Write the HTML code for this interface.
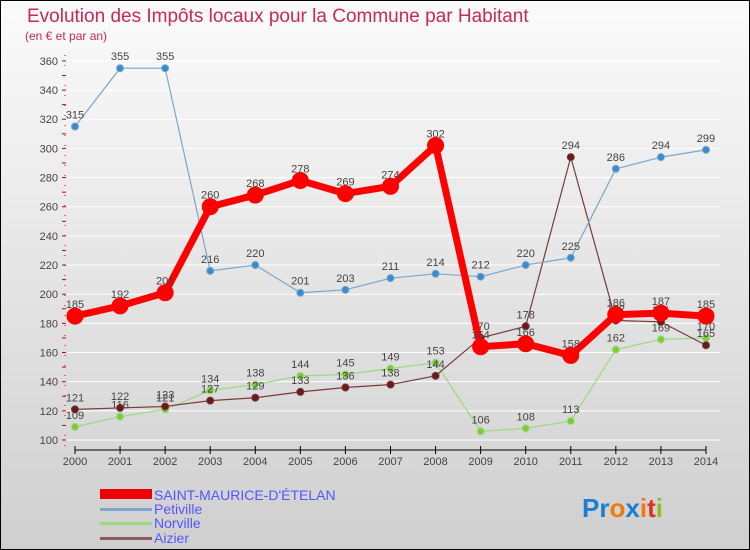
<!DOCTYPE html>
<html><head><meta charset="utf-8"><style>
body{margin:0;width:750px;height:550px;overflow:hidden;font-family:"Liberation Sans",sans-serif}
svg{display:block}
</style></head><body>
<svg width="750" height="550" xmlns="http://www.w3.org/2000/svg">
<defs><linearGradient id="bg" x1="0" y1="0" x2="0" y2="1"><stop offset="0" stop-color="#fbfbfb"/><stop offset="1" stop-color="#cfcfcf"/></linearGradient></defs>
<rect x="0.5" y="0.5" width="749" height="549" fill="url(#bg)" stroke="#000"/>
<text x="27" y="22" font-size="19" fill="#c8285a">Evolution des Impôts locaux pour la Commune par Habitant</text>
<text x="25" y="40" font-size="12" fill="#c8285a">(en € et par an)</text>
<g id="grid"></g><g id="axes"></g><g id="series"></g>
<g>
<rect x="100" y="489" width="52" height="10" fill="#e00"/>
<text x="154" y="500" font-size="14" fill="#55f">SAINT-MAURICE-D'ÉTELAN</text>
<rect x="100" y="508" width="52" height="3" fill="#7ba7c8"/>
<text x="154" y="514" font-size="14" fill="#55f">Petiville</text>
<rect x="100" y="522" width="52" height="3" fill="#9dd97c"/>
<text x="154" y="528" font-size="14" fill="#55f">Norville</text>
<rect x="100" y="537" width="52" height="3" fill="#8b5a5a"/>
<text x="154" y="543" font-size="14" fill="#55f">Aizier</text>
</g>
<g font-size="26" font-weight="bold">
<text x="582" y="517"><tspan fill="#1a7fd0">Pr</tspan><tspan fill="#f07a10">o</tspan><tspan fill="#1a7fd0">x</tspan><tspan fill="#f07a10">i</tspan><tspan fill="#e03020">t</tspan><tspan fill="#8ac020">i</tspan></text>
</g>
</svg>
<script>
const years=[2000,2001,2002,2003,2004,2005,2006,2007,2008,2009,2010,2011,2012,2013,2014];
const yTicks=[100,120,140,160,180,200,220,240,260,280,300,320,340,360];
const saintMaurice=[185,192,201,260,268,278,269,274,302,164,166,158,186,187,185];
const petiville=[315,355,355,216,220,201,203,211,214,212,220,225,286,294,299];
const norville=[109,116,121,134,138,144,145,149,153,106,108,113,162,169,170];
const aizier=[121,122,123,127,129,133,136,138,144,170,178,294,182,181,165];
const NS="http://www.w3.org/2000/svg";
const X=i=>75+i*45.07, Y=v=>440-(v-100)*1.458;
function mk(t,a,p){const e=document.createElementNS(NS,t);for(const k in a)e.setAttribute(k,a[k]);p.appendChild(e);return e;}
const grid=document.getElementById('grid'),axes=document.getElementById('axes'),ser=document.getElementById('series');
yTicks.forEach(v=>{
 const l=mk('line',{x1:65,x2:720,y1:Y(v),y2:Y(v),stroke:'#fff','stroke-width':1},grid);
 
 
 const t=mk('text',{x:58,y:Y(v)+4,'font-size':11,fill:'#444','text-anchor':'end'},axes);
 t.textContent=v;
 
 
});
for(let v=100;v<=360;v+=10){const m=mk('line',{x1:62,x2:66,y1:Y(v),y2:Y(v),stroke:'#c00'},axes);}
const ya=mk('line',{x1:65,x2:65,y1:55,y2:450,stroke:'#c00','stroke-width':1,'stroke-dasharray':'1 9'},axes);
const xa=mk('line',{x1:75,x2:706,y1:450,y2:450,stroke:'#000'},axes);


years.forEach((y,i)=>{
 mk('line',{x1:X(i),x2:X(i),y1:446,y2:454,stroke:'#000'},axes);
 const t=mk('text',{x:X(i),y:465,'font-size':11,fill:'#444','text-anchor':'middle'},axes);
 t.textContent=y;
 
 
});
function draw(name,data,color,dot,w,r){
 const g=mk('g',{},ser);
 
 
 mk('polyline',{points:data.map((v,i)=>X(i)+','+Y(v)).join(' '),fill:'none',stroke:color,'stroke-width':w,'stroke-linejoin':'round'},g);
 data.forEach((v,i)=>{
  const c=mk('circle',{cx:X(i),cy:Y(v),r:r,fill:dot,stroke:color,'stroke-width':1},g);
  
  
  const t=mk('text',{x:X(i),y:Y(v)-8,'font-size':11,fill:'#444','text-anchor':'middle'},g);
  t.textContent=v;
 });
}
draw('norville',norville,'#9dd97c','#7acc3c',1.2,3.5);
draw('aizier',aizier,'#7a3a3a','#6a1a1a',1.2,3.5);
draw('petiville',petiville,'#7ba7c8','#3a8ad0',1.2,3.5);
draw('saint-maurice',saintMaurice,'#f00','#f00',7,8);
</script>
</body></html>
